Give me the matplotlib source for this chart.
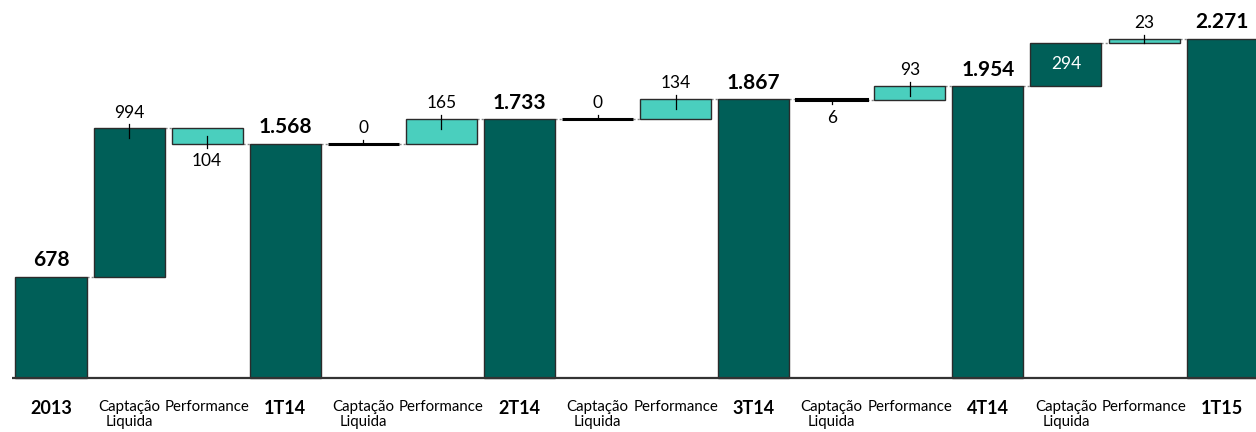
import matplotlib.pyplot as plt

# Data
periods = ['2013', '1T14', '2T14', '3T14', '4T14', '1T15']
totals = [678, 1568, 1733, 1867, 1954, 2271]
captacao = [994, 0, 0, -6, 294]
performance = [-104, 165, 134, 93, 23]
capt_inside = [False, False, False, False, True]

DARK = '#005F58'
TEAL = '#4ACFBE'
EDGE = '#2b2b2b'
PX = 6.7  # data units per pixel

plt.rcParams['font.family'] = ['Lato', 'DejaVu Sans']

fig = plt.figure(figsize=(12.56, 4.32), dpi=100)
ax = fig.add_axes([0, 0, 1, 1])
ax.set_xlim(-0.653, 15.434)
ax.set_ylim(-362, 2533)
ax.axis('off')

w = 0.91

def fmt(v):
    return f"{abs(v):,}".replace(",", ".")

def delta_bar(x, start, d, color, inside=False):
    thin = abs(d) < 10
    ax.bar(x, d, bottom=start, width=w, color=color,
           edgecolor='black' if thin else EDGE, linewidth=2.2 if thin else 1.0,
           zorder=3)
    if inside:
        ax.text(x, start + d / 2, fmt(d), ha='center', va='center',
                color='white', fontsize=12.5, zorder=5)
        return
    h = abs(d)
    edge = start + d
    if d >= 0:
        ax.plot([x, x], [edge + 4 * PX, edge - min(10 * PX, h)],
                color='black', lw=0.9, zorder=4)
        ax.annotate(fmt(d), (x, edge), xytext=(0, 11.5), textcoords='offset points',
                    ha='center', va='center', fontsize=12.5, zorder=5)
    else:
        ax.plot([x, x], [edge - 4 * PX, edge + min(8 * PX, h)],
                color='black', lw=0.9, zorder=4)
        ax.annotate(fmt(d), (x, edge), xytext=(0, -12.5), textcoords='offset points',
                    ha='center', va='center', fontsize=12.5, zorder=5)

def connector(x0, x1, y):
    ax.plot([x0 + w / 2, x1 - w / 2], [y, y], color='#8a8a8a', lw=1,
            linestyle=(0, (1.5, 1.5)), zorder=2)

x = 0
labels = []
for i in range(len(periods)):
    t = totals[i]
    ax.bar(x, t, width=w, color=DARK, edgecolor=EDGE, linewidth=1.0, zorder=3)
    ax.annotate(fmt(t), (x, t), xytext=(0, 12), textcoords='offset points',
                ha='center', va='center', fontsize=15, fontweight='bold', zorder=5)
    labels.append((x, periods[i], True))
    if i == len(periods) - 1:
        break
    connector(x, x + 1, t)
    x += 1
    c = captacao[i]
    delta_bar(x, t, c, DARK, capt_inside[i])
    labels.append((x, 'Captação\nLiquida', False))
    connector(x, x + 1, t + c)
    x += 1
    p = performance[i]
    delta_bar(x, t + c, p, TEAL)
    labels.append((x, 'Performance', False))
    connector(x, x + 1, t + c + p)
    x += 1

for lx, text, bold in labels:
    if bold:
        ax.text(lx, -150, text, ha='center', va='top', fontsize=13,
                fontweight='bold')
    else:
        ax.text(lx, -148, text, ha='center', va='top', fontsize=10.8,
                multialignment='center', linespacing=1.12)

ax.plot([-0.5, 15.434], [0, 0], color='#333333', lw=1.6, zorder=4,
        solid_capstyle='butt')

fig.savefig('out.png', dpi=100)
